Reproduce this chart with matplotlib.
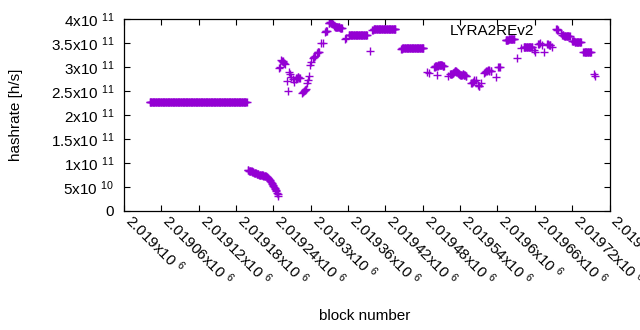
import matplotlib
matplotlib.use("Agg")
import matplotlib.pyplot as plt
import numpy as np

plt.rcParams['font.family'] = ['Liberation Sans', 'DejaVu Sans']
plt.rcParams['mathtext.default'] = 'regular'

# ---- data: block numbers and hashrate (in units of 1e11 h/s) ----
# long flat period, one point per block
flat_blocks = [
    2019041, 2019042, 2019043, 2019044, 2019045, 2019046, 2019047, 2019048, 2019049, 2019050,
    2019051, 2019052, 2019053, 2019054, 2019055, 2019056, 2019057, 2019058, 2019059, 2019060,
    2019061, 2019062, 2019063, 2019064, 2019065, 2019066, 2019067, 2019068, 2019069, 2019070,
    2019071, 2019072, 2019073, 2019074, 2019075, 2019076, 2019077, 2019078, 2019079, 2019080,
    2019081, 2019082, 2019083, 2019084, 2019085, 2019086, 2019087, 2019088, 2019089, 2019090,
    2019091, 2019092, 2019093, 2019094, 2019095, 2019096, 2019097, 2019098, 2019099, 2019100,
    2019101, 2019102, 2019103, 2019104, 2019105, 2019106, 2019107, 2019108, 2019109, 2019110,
    2019111, 2019112, 2019113, 2019114, 2019115, 2019116, 2019117, 2019118, 2019119, 2019120,
    2019121, 2019122, 2019123, 2019124, 2019125, 2019126, 2019127, 2019128, 2019129, 2019130,
    2019131, 2019132, 2019133, 2019134, 2019135, 2019136, 2019137, 2019138, 2019139, 2019140,
    2019141, 2019142, 2019143, 2019144, 2019145, 2019146, 2019147, 2019148, 2019149, 2019150,
    2019151, 2019152, 2019153, 2019154, 2019155, 2019156, 2019157, 2019158, 2019159, 2019160,
    2019161, 2019162, 2019163, 2019164, 2019165, 2019166, 2019167, 2019168, 2019169, 2019170,
    2019171, 2019172, 2019173, 2019174, 2019175, 2019176, 2019177, 2019178, 2019179, 2019180,
    2019181, 2019182, 2019183, 2019184, 2019185, 2019186, 2019187, 2019188, 2019189, 2019190,
    2019191, 2019192, 2019193, 2019194, 2019195, 2019196, 2019197]
flat_rate = [
    2.265, 2.265, 2.265, 2.265, 2.265, 2.265, 2.265, 2.265, 2.265, 2.265,
    2.265, 2.265, 2.265, 2.265, 2.265, 2.265, 2.265, 2.265, 2.265, 2.265,
    2.265, 2.265, 2.265, 2.265, 2.265, 2.265, 2.265, 2.265, 2.265, 2.265,
    2.265, 2.265, 2.265, 2.265, 2.265, 2.265, 2.265, 2.265, 2.265, 2.265,
    2.265, 2.265, 2.265, 2.265, 2.265, 2.265, 2.265, 2.265, 2.265, 2.265,
    2.265, 2.265, 2.265, 2.265, 2.265, 2.265, 2.265, 2.265, 2.265, 2.265,
    2.265, 2.265, 2.265, 2.265, 2.265, 2.265, 2.265, 2.265, 2.265, 2.265,
    2.265, 2.265, 2.265, 2.265, 2.265, 2.265, 2.265, 2.265, 2.265, 2.265,
    2.265, 2.265, 2.265, 2.265, 2.265, 2.265, 2.265, 2.265, 2.265, 2.265,
    2.265, 2.265, 2.265, 2.265, 2.265, 2.265, 2.265, 2.265, 2.265, 2.265,
    2.265, 2.265, 2.265, 2.265, 2.265, 2.265, 2.265, 2.265, 2.265, 2.265,
    2.265, 2.265, 2.265, 2.265, 2.265, 2.265, 2.265, 2.265, 2.265, 2.265,
    2.265, 2.265, 2.265, 2.265, 2.265, 2.265, 2.265, 2.265, 2.265, 2.265,
    2.265, 2.265, 2.265, 2.265, 2.265, 2.265, 2.265, 2.265, 2.265, 2.265,
    2.265, 2.265, 2.265, 2.265, 2.265, 2.265, 2.265, 2.265, 2.265, 2.265,
    2.265, 2.265, 2.265, 2.265, 2.265, 2.265, 2.265]

# sharp drop period
drop_blocks = [
    2019199, 2019200, 2019201, 2019202, 2019203, 2019204, 2019205, 2019206, 2019207, 2019208,
    2019209, 2019210, 2019211, 2019212, 2019213, 2019214, 2019215, 2019216, 2019217, 2019218,
    2019219, 2019220, 2019221, 2019222, 2019223, 2019224, 2019225, 2019226, 2019227, 2019228,
    2019229, 2019230, 2019231, 2019232, 2019233, 2019234, 2019235, 2019236, 2019237, 2019238,
    2019239, 2019240, 2019241, 2019242, 2019243, 2019244, 2019245, 2019246, 2019247, 2019248]
drop_rate = [
    0.85, 0.845, 0.84, 0.837, 0.833, 0.83, 0.825, 0.82, 0.81, 0.805,
    0.80, 0.795, 0.79, 0.785, 0.78, 0.775, 0.77, 0.765, 0.76, 0.758,
    0.755, 0.752, 0.75, 0.745, 0.74, 0.738, 0.735, 0.73, 0.725, 0.72,
    0.715, 0.70, 0.69, 0.68, 0.66, 0.64, 0.62, 0.60, 0.58, 0.56,
    0.54, 0.52, 0.50, 0.48, 0.46, 0.44, 0.41, 0.38, 0.35, 0.32]

# dense plateaus after the drop, one point per block
plateau_blocks = [
    2019329, 2019330, 2019331, 2019332, 2019333, 2019334, 2019335,
    2019338, 2019339, 2019340, 2019341, 2019342, 2019343, 2019344, 2019345, 2019346, 2019347,
    2019348, 2019349, 2019350,
    2019361, 2019362, 2019363, 2019364, 2019365, 2019366, 2019367, 2019368, 2019369, 2019370,
    2019371, 2019372, 2019373, 2019374, 2019375, 2019376, 2019377, 2019378, 2019379, 2019380,
    2019381, 2019382, 2019383, 2019384, 2019385, 2019386, 2019387, 2019388, 2019389, 2019390,
    2019399, 2019400, 2019401, 2019402, 2019403, 2019404, 2019405, 2019406, 2019407, 2019408,
    2019409, 2019410, 2019411, 2019412, 2019413, 2019414, 2019415, 2019416, 2019417, 2019418,
    2019419, 2019420, 2019421, 2019422, 2019423, 2019424, 2019425, 2019426, 2019427, 2019428,
    2019429, 2019430, 2019431, 2019432, 2019433, 2019434, 2019435, 2019436,
    2019445, 2019446, 2019447, 2019448, 2019449, 2019450, 2019451, 2019452, 2019453, 2019454,
    2019455, 2019456, 2019457, 2019458, 2019459, 2019460, 2019461, 2019462, 2019463, 2019464,
    2019465, 2019466, 2019467, 2019468, 2019469, 2019470, 2019471, 2019472, 2019473, 2019474,
    2019475, 2019476, 2019477, 2019478, 2019479, 2019480, 2019481,
    2019498, 2019499, 2019500, 2019501, 2019502, 2019503, 2019504, 2019505, 2019506, 2019507,
    2019508, 2019509, 2019510, 2019511, 2019512, 2019513, 2019514,
    2019524, 2019525, 2019526, 2019527, 2019528, 2019529, 2019530, 2019531, 2019532, 2019533,
    2019534, 2019535, 2019536, 2019537, 2019538, 2019539, 2019540, 2019541, 2019542, 2019543,
    2019544, 2019545, 2019546, 2019547, 2019548, 2019549, 2019550,
    2019613, 2019614, 2019615, 2019616, 2019617, 2019618, 2019619, 2019620, 2019621, 2019622,
    2019623, 2019624, 2019625, 2019626, 2019627,
    2019642, 2019643, 2019644, 2019645, 2019646, 2019647, 2019648, 2019649, 2019650, 2019651,
    2019652, 2019653, 2019654, 2019655, 2019656,
    2019704, 2019705, 2019706, 2019707, 2019708, 2019709, 2019710, 2019711, 2019712, 2019713,
    2019714, 2019715, 2019716,
    2019720, 2019721, 2019722, 2019723, 2019724, 2019725, 2019726, 2019727, 2019728, 2019729,
    2019730, 2019731, 2019732, 2019733, 2019734,
    2019738, 2019739, 2019740, 2019741, 2019742, 2019743, 2019744, 2019745, 2019746, 2019747,
    2019748, 2019749, 2019750]
plateau_rate = [
    3.91, 3.92, 3.93, 3.93, 3.92, 3.91, 3.90,
    3.85, 3.84, 3.84, 3.84, 3.84, 3.83, 3.83, 3.83, 3.83, 3.82,
    3.82, 3.82, 3.82,
    3.66, 3.66, 3.67, 3.67, 3.67, 3.67, 3.67, 3.67, 3.67, 3.67,
    3.67, 3.67, 3.67, 3.67, 3.67, 3.67, 3.67, 3.67, 3.67, 3.67,
    3.67, 3.67, 3.67, 3.67, 3.67, 3.67, 3.67, 3.67, 3.67, 3.67,
    3.78, 3.78, 3.79, 3.79, 3.79, 3.79, 3.79, 3.79, 3.79, 3.79,
    3.79, 3.79, 3.79, 3.79, 3.79, 3.79, 3.79, 3.79, 3.79, 3.79,
    3.79, 3.79, 3.79, 3.79, 3.79, 3.79, 3.79, 3.79, 3.79, 3.79,
    3.79, 3.79, 3.79, 3.79, 3.79, 3.79, 3.79, 3.79,
    3.38, 3.38, 3.39, 3.39, 3.40, 3.40, 3.40, 3.40, 3.40, 3.40,
    3.40, 3.40, 3.40, 3.40, 3.40, 3.40, 3.40, 3.40, 3.40, 3.40,
    3.40, 3.40, 3.40, 3.40, 3.40, 3.40, 3.40, 3.40, 3.40, 3.40,
    3.40, 3.40, 3.40, 3.40, 3.40, 3.40, 3.40,
    3.00, 3.01, 3.02, 3.02, 3.03, 3.03, 3.03, 3.04, 3.04, 3.04,
    3.04, 3.04, 3.04, 3.04, 3.03, 3.03, 3.03,
    2.85, 2.85, 2.86, 2.86, 2.87, 2.88, 2.90, 2.91, 2.92, 2.91,
    2.90, 2.89, 2.88, 2.87, 2.86, 2.85, 2.84, 2.83, 2.83, 2.84,
    2.85, 2.85, 2.84, 2.84, 2.83, 2.82, 2.82,
    3.56, 3.56, 3.57, 3.57, 3.57, 3.58, 3.58, 3.58, 3.58, 3.58,
    3.58, 3.58, 3.58, 3.58, 3.58,
    3.41, 3.41, 3.41, 3.42, 3.42, 3.42, 3.42, 3.42, 3.42, 3.42,
    3.42, 3.42, 3.42, 3.42, 3.42,
    3.67, 3.66, 3.66, 3.65, 3.65, 3.65, 3.65, 3.65, 3.65, 3.65,
    3.64, 3.64, 3.64,
    3.55, 3.55, 3.54, 3.54, 3.53, 3.53, 3.53, 3.53, 3.53, 3.53,
    3.53, 3.53, 3.53, 3.53, 3.53,
    3.31, 3.31, 3.31, 3.31, 3.31, 3.31, 3.31, 3.31, 3.31, 3.31,
    3.31, 3.31, 3.31]

# scattered points and small clusters
sparse_blocks = [
    2019249, 2019251, 2019253, 2019254, 2019255, 2019256, 2019257, 2019259,
    2019262, 2019264, 2019265, 2019267, 2019268, 2019271, 2019273,
    2019276, 2019277, 2019278, 2019279, 2019280, 2019281, 2019282,
    2019286, 2019288, 2019289, 2019290, 2019291, 2019292, 2019294, 2019296, 2019297,
    2019299, 2019301, 2019304, 2019305, 2019306, 2019307, 2019310, 2019311, 2019312, 2019313,
    2019317, 2019319, 2019323, 2019324, 2019325, 2019326,
    2019355, 2019357, 2019396,
    2019487, 2019490, 2019503, 2019521,
    2019557, 2019559, 2019560, 2019562, 2019563, 2019565, 2019568, 2019570, 2019571, 2019573,
    2019578, 2019580, 2019581, 2019583, 2019584, 2019586, 2019587, 2019589, 2019590, 2019597,
    2019601, 2019603, 2019604,
    2019632, 2019638,
    2019659, 2019661, 2019665, 2019667, 2019668, 2019671, 2019675,
    2019679, 2019681, 2019682, 2019684, 2019685, 2019687,
    2019694, 2019696, 2019697, 2019702,
    2019755, 2019757]
sparse_rate = [
    2.97, 3.00, 3.15, 3.13, 3.12, 3.10, 3.08, 3.06,
    2.71, 2.49, 2.90, 2.86, 2.80, 2.75, 2.69,
    2.76, 2.77, 2.78, 2.79, 2.79, 2.78, 2.78,
    2.46, 2.48, 2.50, 2.52, 2.53, 2.55, 2.66, 2.72, 2.81,
    3.04, 3.10, 3.18, 3.20, 3.21, 3.22, 3.29, 3.31, 3.32, 3.32,
    3.51, 3.49, 3.72, 3.74, 3.75, 3.76,
    3.58, 3.60, 3.33,
    2.90, 2.88, 2.84, 2.82,
    2.66, 2.67, 2.68, 2.70, 2.72, 2.73, 2.63, 2.61, 2.60, 2.66,
    2.88, 2.90, 2.92, 2.92, 2.93, 2.93, 2.92, 2.91, 2.91, 2.80,
    2.99, 3.00, 3.01,
    3.18, 3.40,
    3.35, 3.32, 3.47, 3.48, 3.49, 3.46, 3.32,
    3.47, 3.47, 3.46, 3.46, 3.46, 3.42,
    3.79, 3.79, 3.78, 3.70,
    2.86, 2.82]

xtick_values = [2019000, 2019060, 2019120, 2019180, 2019240, 2019300, 2019360,
                2019420, 2019480, 2019540, 2019600, 2019660, 2019720, 2019780]
xtick_labels = ["2.019x10 $^{6}$", "2.01906x10 $^{6}$", "2.01912x10 $^{6}$",
                "2.01918x10 $^{6}$", "2.01924x10 $^{6}$", "2.0193x10 $^{6}$",
                "2.01936x10 $^{6}$", "2.01942x10 $^{6}$", "2.01948x10 $^{6}$",
                "2.01954x10 $^{6}$", "2.0196x10 $^{6}$", "2.01966x10 $^{6}$",
                "2.01972x10 $^{6}$", "2.01978x10 $^{6}$"]
ytick_values = [0, 0.5e11, 1.0e11, 1.5e11, 2.0e11, 2.5e11, 3.0e11, 3.5e11, 4.0e11]
ytick_labels = ["0", "5x10 $^{10}$", "1x10 $^{11}$", "1.5x10 $^{11}$", "2x10 $^{11}$",
                "2.5x10 $^{11}$", "3x10 $^{11}$", "3.5x10 $^{11}$", "4x10 $^{11}$"]
series_name = "LYRA2REv2"

# ---- plot ----
W, H = 640, 330
fig = plt.figure(figsize=(W / 100, H / 100), dpi=100)
ax = fig.add_axes([124 / W, 1 - 211 / H, (609.5 - 124) / W, (211 - 19) / H])

blocks = np.array(flat_blocks + drop_blocks + plateau_blocks + sparse_blocks)
rate = np.array(flat_rate + drop_rate + plateau_rate + sparse_rate) * 1e11
color = '#9400D3'
ax.plot(blocks, rate, linestyle='none', marker='+', markersize=5.4,
        markeredgewidth=1.0, color=color, label=series_name)

ax.set_xlim(xtick_values[0], xtick_values[-1])
ax.set_ylim(0, 4e11)
ax.set_xticks(xtick_values)
ax.set_xticklabels(xtick_labels, rotation=-45, ha='left', va='baseline',
                   rotation_mode='anchor', fontsize=11)
ax.set_yticks(ytick_values)
ax.set_yticklabels(ytick_labels, fontsize=11)
ax.tick_params(direction='in', length=4, width=0.8, top=True, right=True,
               colors='black')
ax.tick_params(axis='x', pad=8)
ax.tick_params(axis='y', pad=7)
for s in ax.spines.values():
    s.set_linewidth(0.9)

ax.set_ylabel("hashrate [h/s]", fontsize=11)
ax.yaxis.set_label_coords((16 - 124) / 485.5, 0.5)
ax.yaxis.label.set_va('center')
ax.set_xlabel("block number", fontsize=11)
ax.xaxis.set_label_coords((365 - 124) / 485.5, (211 - 316) / 192)
ax.xaxis.label.set_va('center')

leg = ax.legend(loc='center right', bbox_to_anchor=(572.3 / W, 1 - 31 / H),
                bbox_transform=fig.transFigure, markerfirst=False, frameon=False,
                fontsize=11, borderpad=0, borderaxespad=0, handletextpad=0.5,
                handlelength=2.0)

fig.savefig("out.png", dpi=100)
